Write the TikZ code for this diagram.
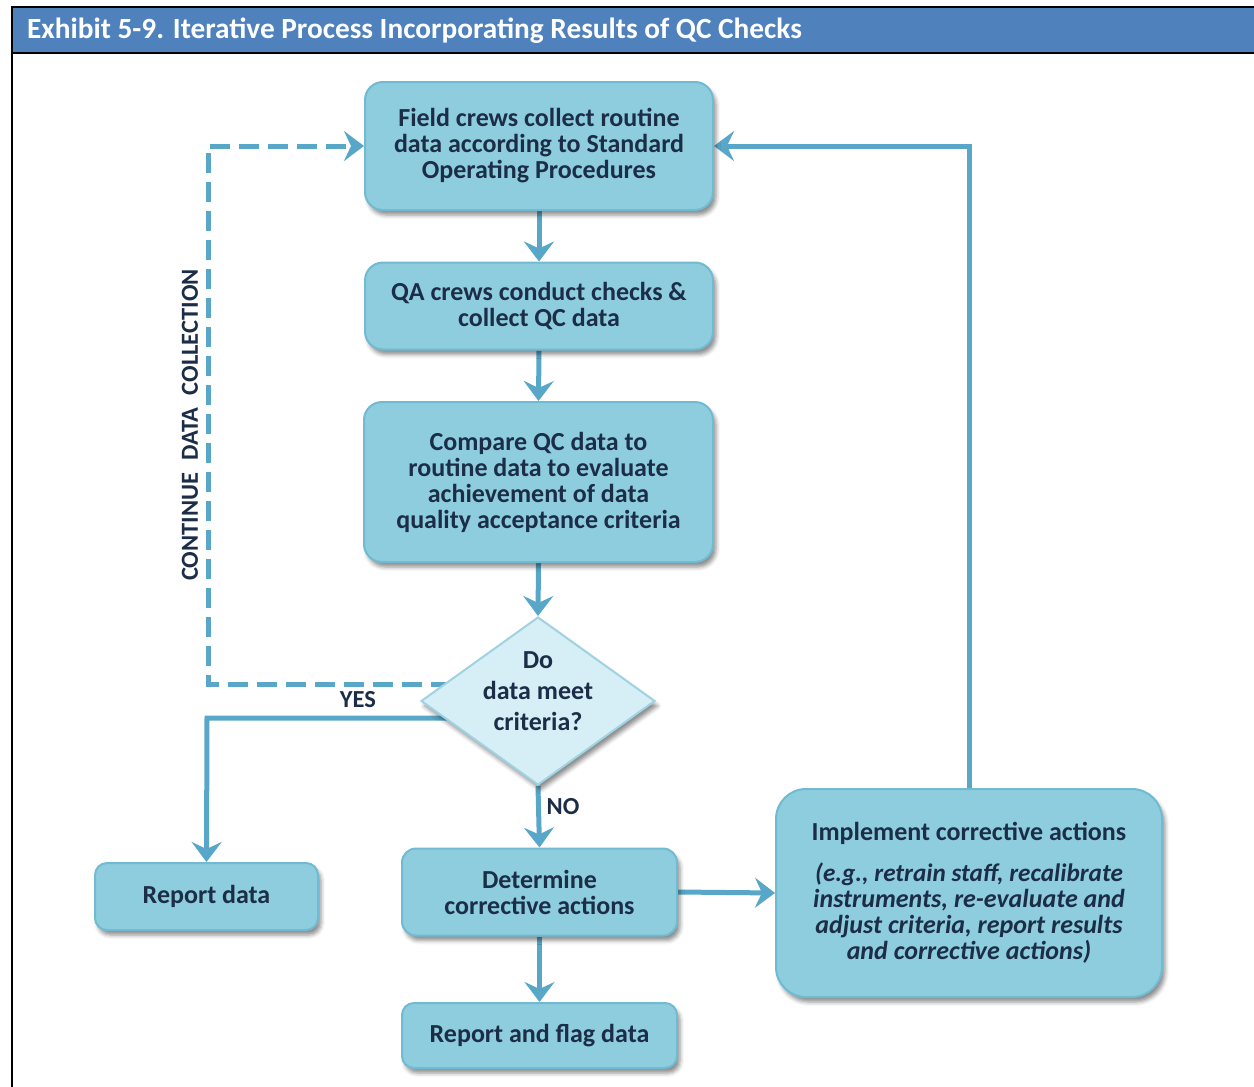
\documentclass[tikz,border=0pt]{standalone}
\usepackage{fontspec}
\setmainfont{Carlito}
\usetikzlibrary{shapes.geometric,arrows.meta,shadows.blur,backgrounds}
\definecolor{barblue}{RGB}{79,129,189}
\definecolor{boxfill}{RGB}{142,205,222}
\definecolor{boxline}{RGB}{112,186,210}
\definecolor{flow}{RGB}{88,167,200}
\definecolor{dfill}{RGB}{214,238,245}
\definecolor{dline}{RGB}{160,210,226}
\definecolor{ink}{RGB}{28,45,72}
\tikzset{
  procbox/.style={draw=boxline, line width=2pt, fill=boxfill, rounded corners=18pt,
    align=center, text=ink, inner sep=4pt,
    font=\fontsize{26}{26}\selectfont\bfseries,
    blur shadow={shadow xshift=3pt, shadow yshift=-5pt, shadow opacity=45, shadow blur radius=4pt}},
  decide/.style={diamond, draw=dline, line width=2pt, fill=dfill,
    inner sep=0pt,
    blur shadow={shadow xshift=3pt, shadow yshift=-5pt, shadow opacity=45, shadow blur radius=4pt}},
  decidetext/.style={align=center, text=ink, inner sep=0pt,
    font=\fontsize{26}{31}\selectfont\bfseries},
  flowline/.style={draw=flow, line width=5pt},
  flowarrow/.style={flowline, -{Stealth[length=20pt, width=30pt, inset=7pt]}},
  loopdash/.style={flowarrow, dash pattern=on 20pt off 9pt},
  tag/.style={text=ink, font=\fontsize{24.5}{28}\selectfont\bfseries}
}
\begin{document}
\begin{tikzpicture}[x=1pt,y=-1pt]
\useasboundingbox (0,0) rectangle (1254,1087);
% frame and title bar
\draw[black, line width=2.5pt] (12,7) -- (12,1090);
\draw[black, line width=2.5pt, fill=barblue] (12,7) rectangle (1260,53);
\node[anchor=west, text=white, font=\fontsize{29.3}{32}\selectfont\bfseries, inner sep=0pt]
  (title) at (27,31) {Exhibit 5-9. Iterative Process Incorporating Results of QC Checks};

% process steps
\node[procbox, minimum width=348pt, minimum height=128pt] (b1) at (539,146)
  {Field crews collect routine\\data according to Standard\\Operating Procedures};
\node[procbox, minimum width=348pt, minimum height=87pt] (b2) at (539,306)
  {QA crews conduct checks \&\\collect QC data};
\node[procbox, minimum width=349pt, minimum height=160pt] (b3) at (538.5,482)
  {Compare QC data to\\routine data to evaluate\\achievement of data\\quality acceptance criteria};
\node[decide, minimum width=234pt, minimum height=168pt] (d) at (538,701) {};
\node[decidetext] (dq) at (538,691) {Do\\data meet\\criteria?};
\node[procbox, minimum width=223pt, minimum height=67pt, rounded corners=12pt] (rd) at (206.5,896.5)
  {Report data};
\node[procbox, minimum width=275pt, minimum height=87pt, rounded corners=14pt] (dt) at (539.5,892)
  {Determine\\corrective actions};
\node[procbox, minimum width=275pt, minimum height=65pt, rounded corners=12pt] (rf) at (539.5,1035.5)
  {Report and flag data};
\node[procbox, minimum width=386pt, minimum height=208pt, rounded corners=30pt] (im) at (969,893)
  {\fontsize{26}{26}\selectfont Implement corrective actions\\[15pt]
   \fontsize{25.2}{26}\selectfont\itshape (e.g., retrain staff, recalibrate\\
   \itshape instruments, re-evaluate and\\
   \itshape adjust criteria, report results\\
   \itshape and corrective actions)};

% labels
\node[tag] (yes) at (358,700) {YES};
\node[tag] (no) at (563,807) {NO};
\node[tag, rotate=90] (cont) at (190,425)
  {CONTINUE\hspace{0.5em}DATA\hspace{0.5em}COLLECTION};

\coordinate (dl) at (208,684);
\coordinate (yl) at (207,718);

% connectors
\begin{pgfonlayer}{background}
\draw[flowarrow] (b1.south) -- (b2.north);
\draw[flowarrow] (b2.south) -- (b3.north);
\draw[flowarrow] (b3.south) -- (d.north);
\draw[flowarrow] (d.south) -- (dt.north);
\draw[flowarrow] (dt.south) -- (rf.north);
\draw[flowarrow] (dt.east) -- (im.west);
\draw[flowarrow] (im.north) |- (b1.east);
\draw[flowarrow] (d.center |- yl) -- (yl) -- (rd.north);
\draw[loopdash] (d.center |- dl) -- (dl) |- (b1.west);
\end{pgfonlayer}
\end{tikzpicture}
\end{document}
